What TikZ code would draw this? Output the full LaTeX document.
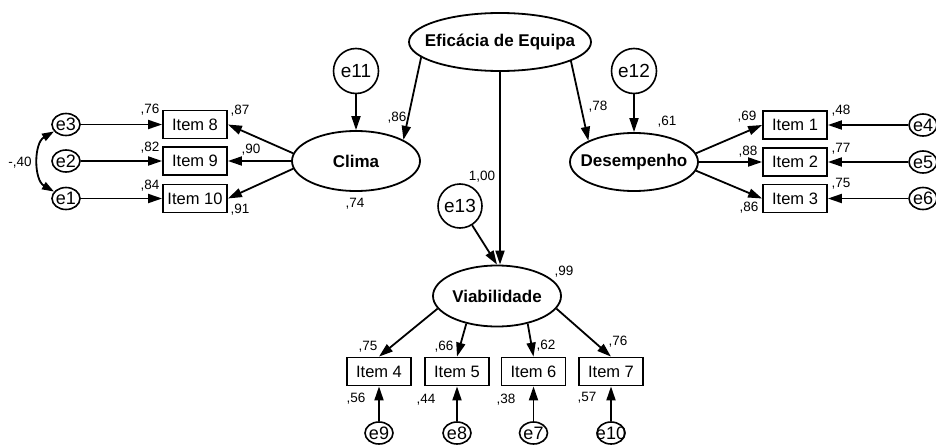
\documentclass[tikz,border=0pt]{standalone}
\usepackage{fontspec}
\setmainfont{Liberation Sans}
\usetikzlibrary{shapes.geometric,arrows.meta}
\newcommand{\zw}[1]{\makebox[0pt]{#1}}
\begin{document}
\begin{tikzpicture}[x=1pt,y=-1pt,
  latent/.style={ellipse,draw,line width=1.8pt,inner sep=0pt,font=\fontsize{17}{19}\selectfont\bfseries},
  item/.style={rectangle,draw,line width=1.8pt,minimum width=64pt,minimum height=28pt,inner sep=0pt,font=\fontsize{16.5}{18}\selectfont},
  err/.style={ellipse,draw,line width=1.6pt,minimum width=28pt,minimum height=22pt,inner sep=0pt,font=\fontsize{18}{20}\selectfont},
  errbig/.style={circle,draw,line width=1.6pt,minimum size=45pt,inner sep=0pt,font=\fontsize{19}{20}\selectfont},
  lbl/.style={font=\fontsize{13.5}{15}\selectfont,inner sep=0pt},
  arr/.style={-{Triangle[length=14pt,width=9pt]},line width=1.8pt},
  dbl/.style={{Triangle[length=12pt,width=8pt]}-{Triangle[length=12pt,width=8pt]},line width=1.8pt}]
\useasboundingbox (0,0) rectangle (936,444);
\clip (0,0) rectangle (936,444);

% latent variables
\node[latent,minimum width=182pt,minimum height=58pt] (eff) at (500,42) {\zw{Eficácia de Equipa}};
\node[latent,minimum width=128pt,minimum height=60pt] (clima) at (356,161) {\zw{Clima}};
\node[latent,minimum width=128pt,minimum height=58pt] (desemp) at (634,162) {\zw{Desempenho}};
\node[latent,minimum width=128pt,minimum height=61pt] (viab) at (497,296) {\zw{Viabilidade}};

% disturbances
\node[errbig] (e11) at (356,71) {e11};
\node[errbig] (e12) at (634,71) {e12};
\node[errbig,minimum size=44pt] (e13) at (460,206) {e13};

% items
\node[item] (i8) at (195,124.5) {Item 8};
\node[item] (i9) at (195,161) {Item 9};
\node[item] (i10) at (195,198.5) {Item 10};
\node[item] (i1) at (795,125) {Item 1};
\node[item] (i2) at (795,162) {Item 2};
\node[item] (i3) at (795,198.5) {Item 3};
\node[item] (i4) at (379,371.5) {Item 4};
\node[item] (i5) at (457,371.5) {Item 5};
\node[item] (i6) at (533.5,371.5) {Item 6};
\node[item] (i7) at (611,371.5) {Item 7};

% errors
\node[err] (e3) at (66,124.5) {\zw{e3}};
\node[err] (e2) at (66,161) {\zw{e2}};
\node[err] (e1) at (66,198.5) {\zw{e1}};
\node[err] (e4) at (923,125) {\zw{e4}};
\node[err] (e5) at (923,162) {\zw{e5}};
\node[err] (e6) at (923,198.5) {\zw{e6}};
\node[err] (e9) at (379,433) {\zw{e9}};
\node[err] (e8) at (457,433) {\zw{e8}};
\node[err] (e7) at (533.5,433) {\zw{e7}};
\node[err] (e10) at (611,433) {\zw{e10}};

% structural paths
\draw[arr] (eff.191) -- (clima.24);
\draw[arr] (eff.345) -- (desemp.155);
\draw[arr] (eff.south) -- (eff.south |- viab.north);
\draw[arr] (e11) -- (clima);
\draw[arr] (e12) -- (desemp);
\draw[arr] (e13) -- (viab.north);

% loadings
\draw[arr] (clima.173) -- (i8.east);
\draw[arr] (clima.west) -- (i9.east);
\draw[arr] (clima.187) -- (i10.east);
\draw[arr] (desemp.8) -- (i1.west);
\draw[arr] (desemp.east) -- (i2.west);
\draw[arr] (desemp.352) -- (i3.west);
\draw[arr] (viab.192) -- (i4.north);
\draw[arr] (viab.222) -- (i5.north);
\draw[arr] (viab.318) -- (i6.north);
\draw[arr] (viab.348) -- (i7.north);

% error paths
\draw[arr] (e3) -- (i8);
\draw[arr] (e2) -- (i9);
\draw[arr] (e1) -- (i10);
\draw[arr] (e4) -- (i1);
\draw[arr] (e5) -- (i2);
\draw[arr] (e6) -- (i3);
\draw[arr] (e9) -- (i4);
\draw[arr] (e8) -- (i5);
\draw[arr] (e7) -- (i6);
\draw[arr] (e10) -- (i7);

% covariance
\draw[dbl] (e3) to[bend right=60] (e1);

% estimates
\node[lbl] (c40) at (20,163) {-,40};
\node[lbl] (l76a) at (150,110) {,76};
\node[lbl] (l82) at (150,148) {,82};
\node[lbl] (l84) at (150,186) {,84};
\node[lbl] (l87) at (240,111) {,87};
\node[lbl] (l90) at (251,150) {,90};
\node[lbl] (l91) at (240,210) {,91};
\node[lbl] (l86a) at (397,118) {,86};
\node[lbl] (l74) at (355,204) {,74};
\node[lbl] (l78) at (598,107) {,78};
\node[lbl] (l61) at (667,122) {,61};
\node[lbl] (l69) at (747,117) {,69};
\node[lbl] (l88) at (748,152) {,88};
\node[lbl] (l86b) at (749,208) {,86};
\node[lbl] (l48) at (841,111) {,48};
\node[lbl] (l77) at (841,149) {,77};
\node[lbl] (l75a) at (841,184) {,75};
\node[lbl] (l100) at (482,177) {1,00};
\node[lbl] (l99) at (564,272) {,99};
\node[lbl] (l75b) at (368,347) {,75};
\node[lbl] (l66) at (444,347) {,66};
\node[lbl] (l62) at (546,346) {,62};
\node[lbl] (l76b) at (618,342) {,76};
\node[lbl] (l56) at (356,399) {,56};
\node[lbl] (l44) at (426,400) {,44};
\node[lbl] (l38) at (506,400) {,38};
\node[lbl] (l57) at (587,398) {,57};
\end{tikzpicture}
\end{document}
